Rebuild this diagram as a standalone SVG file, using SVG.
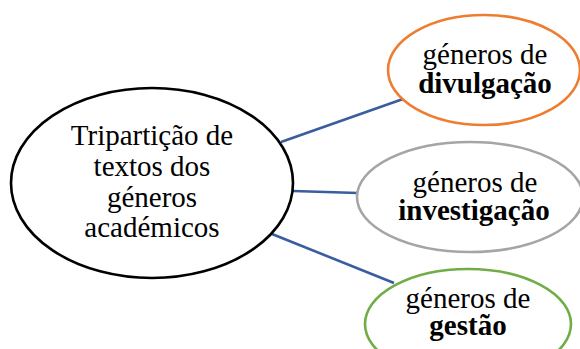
<svg xmlns="http://www.w3.org/2000/svg" width="580" height="349" viewBox="0 0 580 349">
<style>
text{font-family:"Liberation Serif","Times New Roman",serif;font-size:29px;fill:#000;text-anchor:middle}
.b{font-weight:bold}
.n{fill:#fff;stroke-width:2.6}
.c{stroke:#3A5DA0;stroke-width:2.6;fill:none}
</style>
<rect width="580" height="349" fill="#fff"/>
<g id="connectors">
<line class="c" x1="281" y1="142" x2="403" y2="99"/>
<line class="c" x1="293" y1="191" x2="358" y2="193"/>
<line class="c" x1="272" y1="234" x2="394" y2="283"/>
</g>
<g id="main">
<ellipse class="n" cx="152" cy="183" rx="141" ry="95" stroke="#000"/>
<text x="152" y="145">Tripartição de</text>
<text x="152" y="176">textos dos</text>
<text x="152" y="207">géneros</text>
<text x="152" y="237">académicos</text>
</g>
<g id="divulgacao">
<ellipse class="n" cx="484" cy="70" rx="96" ry="55" stroke="#ED7D31"/>
<text x="485" y="64">géneros de</text>
<text x="485" y="93" class="b">divulgação</text>
</g>
<g id="investigacao">
<ellipse class="n" cx="470" cy="197" rx="113" ry="55" stroke="#A5A5A5"/>
<text x="475" y="192">géneros de</text>
<text x="474" y="220" class="b">investigação</text>
</g>
<g id="gestao">
<ellipse class="n" cx="468" cy="324" rx="103" ry="55" stroke="#70AD47"/>
<text x="468" y="308">géneros de</text>
<text x="468" y="335" class="b">gestão</text>
</g>
</svg>
